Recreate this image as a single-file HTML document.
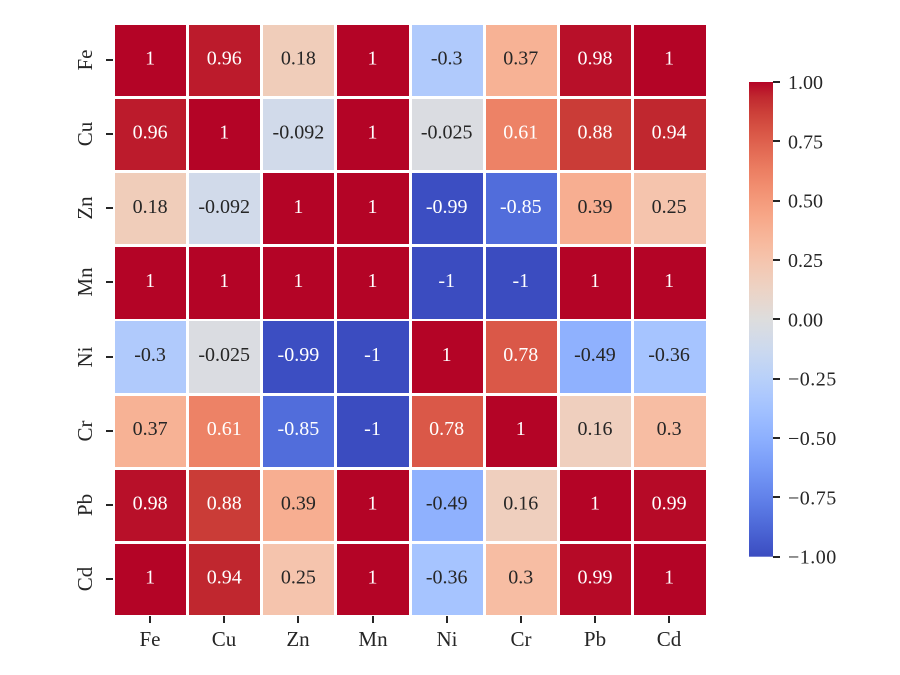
<!DOCTYPE html>
<html lang="en">
<head>
<meta charset="utf-8">
<title>Heavy metal correlation heatmap</title>
<style>
  html, body { margin: 0; padding: 0; background: #fff; width: 900px; height: 675px; overflow: hidden; }
  svg { display: block; }
  text { font-family: "Liberation Serif", serif; font-size: 20px; }
  text.category { font-size: 21px; }
</style>
</head>
<body>
<svg id="chart" xmlns="http://www.w3.org/2000/svg" width="900" height="675" viewBox="0 0 900 675"></svg>
<script>
const categories = ["Fe", "Cu", "Zn", "Mn", "Ni", "Cr", "Pb", "Cd"];
const rowFe = [1, 0.96, 0.18, 1, -0.3, 0.37, 0.98, 1];
const rowCu = [0.96, 1, -0.092, 1, -0.025, 0.61, 0.88, 0.94];
const rowZn = [0.18, -0.092, 1, 1, -0.99, -0.85, 0.39, 0.25];
const rowMn = [1, 1, 1, 1, -1, -1, 1, 1];
const rowNi = [-0.3, -0.025, -0.99, -1, 1, 0.78, -0.49, -0.36];
const rowCr = [0.37, 0.61, -0.85, -1, 0.78, 1, 0.16, 0.3];
const rowPb = [0.98, 0.88, 0.39, 1, -0.49, 0.16, 1, 0.99];
const rowCd = [1, 0.94, 0.25, 1, -0.36, 0.3, 0.99, 1];
const matrix = [rowFe, rowCu, rowZn, rowMn, rowNi, rowCr, rowPb, rowCd];
const colorbarTicks = [1, 0.75, 0.5, 0.25, 0, -0.25, -0.5, -0.75, -1];
const colorbarLabels = ["1.00", "0.75", "0.50", "0.25", "0.00", "\u22120.25", "\u22120.50", "\u22120.75", "\u22121.00"];
const coolwarm = [[59,76,192],[68,90,204],[77,104,215],[87,117,225],[98,130,234],[108,142,241],[119,154,247],[130,165,251],[141,176,254],[152,185,255],[163,194,255],[174,201,253],[184,208,249],[194,213,244],[204,217,238],[213,219,230],[221,221,221],[229,216,209],[236,211,197],[241,204,185],[245,196,173],[247,187,160],[247,177,148],[247,166,135],[244,154,123],[241,141,111],[236,127,99],[229,112,88],[222,96,77],[213,80,66],[203,62,56],[192,40,47],[180,4,38]];

const NS = "http://www.w3.org/2000/svg";
const svg = document.getElementById("chart");
const plotLeft = 115, plotTop = 24.9, pitch = 74.14, cellSize = 71.2, plotRight = 706;
const cbLeft = 749, cbWidth = 24, cbTop = 82, cbBottom = 556.7;
const tickColor = "#262626";

function xCell(i) { return plotLeft + i * pitch; }
function yCell(i) { return plotTop + i * pitch; }
function yColorbar(v) { return cbTop + (1 - v) / 2 * (cbBottom - cbTop); }

function rgbFor(v) {
  const t = Math.max(0, Math.min(1, (v + 1) / 2)) * (coolwarm.length - 1);
  const i = Math.min(Math.floor(t), coolwarm.length - 2);
  const f = t - i;
  return coolwarm[i].map(function (c, k) { return Math.round(c + (coolwarm[i + 1][k] - c) * f); });
}
function fillFor(v) { return "rgb(" + rgbFor(v).join(",") + ")"; }
function inkFor(v) {
  const c = rgbFor(v).map(function (u) {
    const s = u / 255;
    return s <= 0.03928 ? s / 12.92 : Math.pow((s + 0.055) / 1.055, 2.4);
  });
  return (0.2126 * c[0] + 0.7152 * c[1] + 0.0722 * c[2]) < 0.408 ? "#ffffff" : "#262626";
}
function make(tag, attrs, parent) {
  const el = document.createElementNS(NS, tag);
  Object.keys(attrs).forEach(function (k) { el.setAttribute(k, attrs[k]); });
  (parent || svg).appendChild(el);
  return el;
}

matrix.forEach(function (row, r) {
  row.forEach(function (value, c) {
    const left = Math.round(xCell(c));
    const right = c === categories.length - 1 ? plotRight : Math.round(xCell(c) + cellSize);
    const top = Math.round(yCell(r)), bottom = Math.round(yCell(r) + cellSize);
    const cell = make("rect", { x: left, y: top, width: right - left, height: bottom - top, fill: fillFor(value), "shape-rendering": "crispEdges" });
    
    
    const label = make("text", { x: xCell(c) + cellSize / 2 - 0.5, y: yCell(r) + cellSize / 2 + 4, "text-anchor": "middle", fill: inkFor(value) });
    label.textContent = String(value);
    
    
  });
});

categories.forEach(function (name, i) {
  const cx = Math.round(xCell(i) + cellSize / 2 - 0.5);
  const xt = make("rect", { x: cx - 1, y: 616, width: 2, height: 7, fill: tickColor, "shape-rendering": "crispEdges" });
  
  
  const xl = make("text", { class: "category", x: cx, y: 646, "text-anchor": "middle", fill: "#262626" });
  xl.textContent = name;
  
  

  const cy = Math.round(yCell(i) + cellSize / 2 - 0.5);
  const yt = make("rect", { x: 106, y: cy - 1, width: 7, height: 2, fill: tickColor, "shape-rendering": "crispEdges" });
  
  
  const yl = make("text", { class: "category", x: 0, y: 0, "text-anchor": "middle", fill: "#262626", transform: "translate(92 " + cy + ") rotate(-90)" });
  yl.textContent = name;
  
  
});

const defs = make("defs", {});
const grad = make("linearGradient", { id: "cbGradient", x1: 0, y1: 1, x2: 0, y2: 0 }, defs);
coolwarm.forEach(function (c, i) {
  make("stop", { offset: i / (coolwarm.length - 1), "stop-color": "rgb(" + c.join(",") + ")" }, grad);
});
const bar = make("rect", { x: cbLeft, y: cbTop, width: cbWidth, height: cbBottom - cbTop, fill: "url(#cbGradient)" });



colorbarTicks.forEach(function (v, i) {
  const y = yColorbar(v);
  const t = make("rect", { x: cbLeft + cbWidth, y: Math.round(y) - 1, width: 7, height: 2, fill: tickColor, "shape-rendering": "crispEdges" });
  
  
  const l = make("text", { x: 788, y: y + 7, fill: "#262626", "letter-spacing": v < 0 ? 0.5 : 0 });
  l.textContent = colorbarLabels[i];
  
  
});
</script>
</body>
</html>
